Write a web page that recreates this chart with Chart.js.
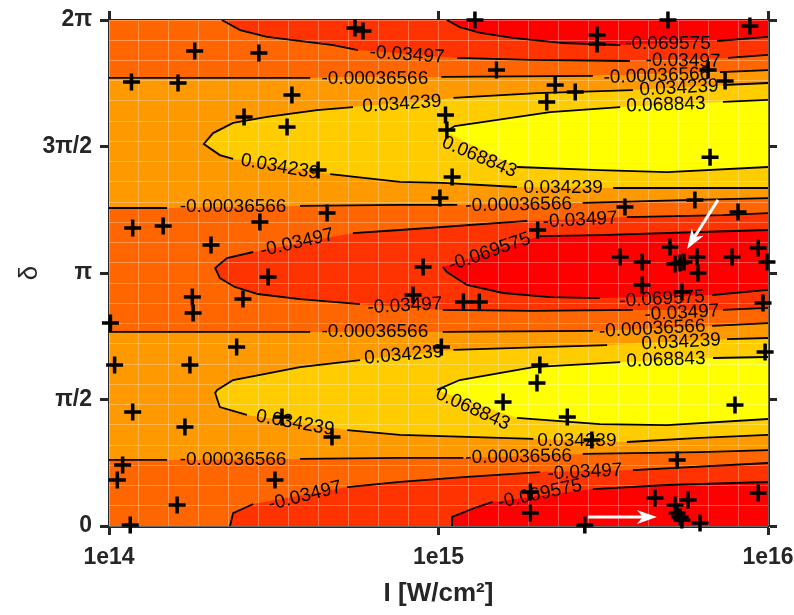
<!DOCTYPE html>
<html>
<head>
<meta charset="utf-8">
<script src="https://cdn.jsdelivr.net/npm/chart.js@4.4.1/dist/chart.umd.min.js"></script>
<style>
  body { margin: 0; background: #fff; }
  canvas { display: block; }
</style>
</head>
<body>
<canvas id="myChart" width="794" height="615"></canvas>
<script>
// axes (delta is kept in units of pi)
const xTicks = [1e14, 1e15, 1e16]
const xTickLabels = ['1e14', '1e15', '1e16']
const yTicks = [0, 0.5, 1, 1.5, 2]
const yTickLabels = ['0', 'π/2', 'π', '3π/2', '2π']

// contour levels and the autumn colours between them (lowest band first)
const levels = [-0.069575, -0.03497, -0.00036566, 0.034239, 0.068843]
const bandColors = ['#ff0000', '#ff3300', '#ff6600', '#ff9900', '#ffcc00', '#ffff00']

// contour lines as [I, delta/pi], null = break in the line where a label sits
const topRed = [[1.06e15, 2.0], [1.16e15, 1.972], [1.34e15, 1.949], [1.68e15, 1.929], [2.39e15, 1.909], [3.56e15, 1.901], null, [7.00e15, 1.917], [1e16, 1.933]]
const topMid = [[2.20e14, 2.0], [2.50e14, 1.960], [3.02e14, 1.933], [4.79e14, 1.901], [5.70e14, 1.881], null, [1.14e15, 1.850], [1.90e15, 1.842], [3.81e15, 1.838], null, [7.56e15, 1.850], [1e16, 1.862]]
const zeroA = [[1e14, 1.771], [4.08e14, 1.771], null, [1.02e15, 1.775], [2.94e15, 1.779], null, [7.15e15, 1.794], [1e16, 1.802]]
const upPos1 = [[1e16, 1.751], [7.30e15, 1.743], null, [3.89e15, 1.723], [1.99e15, 1.711], [1.11e15, 1.692], null, [5.50e14, 1.656], [4.28e14, 1.644], [3.02e14, 1.617], [2.38e14, 1.593], [2.07e14, 1.553], [1.94e14, 1.510], [2.17e14, 1.466], [2.38e14, 1.451], null, [4.69e14, 1.391], [7.64e14, 1.360], [1.03e15, 1.356], [1.73e15, 1.340], null, [3.39e15, 1.336], [6.22e15, 1.336], [1e16, 1.336]]
const upPos2 = [[1e16, 1.684], [7.30e15, 1.676], null, [3.56e15, 1.656], [2.18e15, 1.636], [1.31e15, 1.593], [1.12e15, 1.581], [1.05e15, 1.557], null, [1.73e15, 1.419], [3.09e15, 1.407], [4.94e15, 1.399], [1e16, 1.419]]
const zeroB = [[1e14, 1.257], [1.50e14, 1.257], null, [3.80e14, 1.265], [7.64e14, 1.269], [1.14e15, 1.269], null, [2.74e15, 1.277], [5.92e15, 1.289], [1e16, 1.296]]
const midNeg1 = [[1e16, 1.237], [7.30e15, 1.229], [3.73e15, 1.221], null, [1.86e15, 1.206], [7.64e14, 1.170], [5.50e14, 1.158], null, [2.74e14, 1.083], [2.28e14, 1.059], [2.10e14, 1.020], [2.17e14, 0.980], [2.41e14, 0.945], [2.83e14, 0.917], [3.80e14, 0.897], [5.78e14, 0.877], null, [1.03e15, 0.854], [1.94e15, 0.850], [3.89e15, 0.854], null, [7.30e15, 0.854], [1e16, 0.862]]
const midNeg2 = [[1e16, 1.170], [6.22e15, 1.162], [3.09e15, 1.150], [2.03e15, 1.146], null, [1.03e15, 1.024], [1.06e15, 1.004], [1.22e15, 0.953], [1.57e15, 0.921], [2.18e15, 0.905], [3.09e15, 0.901], null, [6.77e15, 0.913], [1e16, 0.933]]
const zeroC = [[1e14, 0.767], [4.08e14, 0.767], null, [1.03e15, 0.767], [2.94e15, 0.771], null, [6.77e15, 0.791], [1e16, 0.802]]
const lowPos1 = [[1e16, 0.743], [7.51e15, 0.739], null, [3.25e15, 0.715], [1.11e15, 0.696], null, [5.78e14, 0.656], [3.80e14, 0.628], [2.38e14, 0.577], [2.13e14, 0.538], [2.10e14, 0.526], [2.17e14, 0.470], [2.62e14, 0.439], null, [5.28e14, 0.379], [7.64e14, 0.360], [1.22e15, 0.352], [1.94e15, 0.344], null, [3.73e15, 0.332], [6.22e15, 0.348], [1e16, 0.360]]
const lowPos2 = [[1e16, 0.668], [6.81e15, 0.664], null, [3.56e15, 0.648], [1.94e15, 0.628], [1.16e15, 0.577], [9.89e14, 0.538], null, [1.73e15, 0.427], [3.09e15, 0.403], [4.94e15, 0.399], [1e16, 0.423]]
const zeroD = [[1e14, 0.261], [1.50e14, 0.261], null, [3.80e14, 0.265], [7.64e14, 0.269], [1.19e15, 0.269], null, [2.74e15, 0.285], [6.22e15, 0.292], [1e16, 0.300]]
const botMid = [[2.33e14, 0], [2.38e14, 0.051], [2.74e14, 0.087], null, [5.28e14, 0.154], [7.64e14, 0.174], [1.22e15, 0.194], [2.03e15, 0.213], null, [3.89e15, 0.221], [1e16, 0.249]]
const botRed = [[1.10e15, 0], [1.10e15, 0.036], [1.31e15, 0.075], [1.46e15, 0.095], null, [2.94e15, 0.146], [4.94e15, 0.162], [1e16, 0.174]]

// sample points (+)
const markI = [5.58e14, 5.90e14, 1.82e14, 2.85e14, 1.17e14, 1.62e14, 3.59e14, 2.57e14, 3.47e14, 4.31e14,
  1.18e14, 1.46e14, 2.87e14, 4.59e14, 2.04e14, 3.04e14, 1.79e14, 1.80e14, 2.55e14, 1.01e14,
  1.04e14, 1.76e14, 2.44e14, 1.18e14, 1.70e14, 3.35e14, 4.75e14, 1.10e14, 1.06e14, 1.61e14,
  3.19e14, 1.16e14, 1.29e15, 4.97e15, 8.81e15, 3.03e15, 3.03e15, 1.50e15, 2.26e15, 2.60e15,
  2.13e15, 6.58e15, 7.41e15, 1.05e15, 1.06e15, 6.67e15, 1.10e15, 1.01e15, 3.68e15, 6.00e15,
  8.11e15, 2.00e15, 5.04e15, 9.34e15, 3.56e15, 4.15e15, 5.22e15, 5.41e15, 5.56e15, 6.09e15,
  6.13e15, 7.78e15, 9.93e15, 4.15e15, 5.48e15, 8.98e14, 8.37e14, 1.19e15, 1.33e15, 9.66e15,
  9.80e15, 1.02e15, 2.03e15, 1.99e15, 1.57e15, 2.46e15, 7.94e15, 2.92e15, 5.30e15, 1.90e15,
  1.90e15, 4.54e15, 5.22e15, 5.72e15, 5.30e15, 5.41e15, 5.48e15, 6.22e15, 2.78e15, 9.34e15]
const markD = [1.968, 1.957, 1.877, 1.870, 1.755, 1.751, 1.704, 1.617, 1.577, 1.407,
  1.178, 1.186, 1.202, 1.237, 1.111, 0.984, 0.905, 0.842, 0.897, 0.802,
  0.636, 0.636, 0.708, 0.451, 0.391, 0.431, 0.352, 0.241, 0.182, 0.083,
  0.182, 0.004, 2.0, 2.0, 1.976, 1.941, 1.905, 1.802, 1.743, 1.715,
  1.676, 1.802, 1.759, 1.625, 1.565, 1.458, 1.379, 1.296, 1.261, 1.289,
  1.241, 1.170, 1.103, 1.099, 1.063, 1.043, 1.036, 1.040, 1.043, 1.063,
  1.000, 1.063, 1.043, 0.953, 0.925, 1.024, 0.913, 0.885, 0.885, 0.881,
  0.688, 0.708, 0.636, 0.565, 0.490, 0.431, 0.478, 0.340, 0.261, 0.134,
  0.051, 0.111, 0.083, 0.103, 0.051, 0.036, 0.024, 0.012, 0.004, 0.130]

// contour labels: text, position and angle (deg)
const labelText = ['-0.069575', '-0.03497', '-0.03497', '-0.00036566', '-0.00036566', '0.034239', '0.034239', '0.068843',
  '0.034239', '0.068843', '0.034239', '-0.00036566', '-0.00036566', '-0.03497', '-0.03497', '-0.069575',
  '-0.069575', '-0.03497', '-0.03497', '-0.00036566', '-0.00036566', '0.034239', '0.034239', '0.068843',
  '0.034239', '0.068843', '0.034239', '-0.00036566', '-0.00036566', '-0.03497', '-0.03497', '-0.069575']
const labelI = [4.97e15, 8.02e14, 5.52e15, 6.41e14, 4.60e15, 7.74e14, 5.37e15, 4.90e15,
  3.30e14, 1.33e15, 2.39e15, 2.38e14, 1.75e15, 3.72e14, 2.69e15, 1.43e15,
  4.77e15, 7.91e14, 5.48e15, 6.41e14, 4.45e15, 7.85e14, 5.45e15, 4.90e15,
  3.67e14, 1.27e15, 2.63e15, 2.38e14, 1.75e15, 3.94e14, 2.78e15, 2.03e15]
const labelD = [1.905, 1.862, 1.838, 1.767, 1.779, 1.668, 1.731, 1.664,
  1.419, 1.458, 1.336, 1.261, 1.269, 1.119, 1.209, 1.083,
  0.897, 0.870, 0.842, 0.767, 0.779, 0.676, 0.727, 0.656,
  0.407, 0.462, 0.336, 0.261, 0.273, 0.119, 0.213, 0.126]
const labelAngle = [0, 4, 1, 0, -2, -4, -3, -2,
  10, 23, 0, 0, -1, -13, -3, -19,
  -3, -3, -3, 0, -3, -5, -3, -2,
  10, 24, 0, 0, -1, -14, -3, -12]

// white arrows: tail -> tip
const arrowTailI = [2.84e15, 7.05e15]
const arrowTailD = [0.036, 1.289]
const arrowTipI = [4.60e15, 5.68e15]
const arrowTipD = [0.036, 1.095]

const axisColor = '#262626'
const gridCols = 44
const gridRows = 50

const pts = arr => arr.map((p, i) => p ? {x: p[0], y: p[1]} : {x: arr[i - 1][0], y: null})
const poly = arr => arr.filter(p => p).map(p => ({x: p[0], y: p[1]}))

// filled bands, painted from the bottom layer up
const fills = [
    [zeroA, 'end', 2], [zeroA, 'start', 3], [zeroB, 'start', 2], [zeroC, 'start', 3], [zeroD, 'start', 2],
    [topMid, 'end', 1], [topRed, 'end', 0],
    [upPos1, 'shape', 4], [upPos2, 'shape', 5],
    [midNeg1, 'shape', 1], [midNeg2, 'shape', 0],
    [lowPos1, 'shape', 4], [lowPos2, 'shape', 5],
    [botMid, 'start', 1], [botRed, 'start', 0]
]
const contourLines = [topRed, topMid, zeroA, upPos1, upPos2, zeroB, midNeg1, midNeg2, zeroC, lowPos1, lowPos2, zeroD, botMid, botRed]

const drawList = []
fills.forEach(([line, mode, band], i) => {
    drawList.push({
        type: 'line',
        data: poly(line),
        fill: mode,
        backgroundColor: bandColors[band],
        borderColor: 'rgba(0,0,0,0)',
        borderWidth: 0,
        pointRadius: 0,
        gridAfter: i === fills.length - 1
    })
})
contourLines.forEach(line => {
    drawList.push({
        type: 'line',
        data: pts(line),
        fill: false,
        borderColor: '#000',
        borderWidth: 1.8,
        pointRadius: 0,
        spanGaps: false
    })
})
drawList.push({
    type: 'scatter',
    data: markI.map((v, i) => ({x: v, y: markD[i]})),
    pointStyle: 'cross',
    pointRadius: 8.5,
    pointBorderWidth: 3.5,
    pointBorderColor: '#000',
    clip: false,
    labelsBefore: true
})
drawList.forEach((d, i) => {
    d.order = drawList.length - i
    d.xAxisID = 'x'
    d.yAxisID = 'y'
})

function drawLabels(chart) {
    const {ctx, scales: {x, y}} = chart
    ctx.save()
    ctx.font = '19px "Liberation Sans", Arial, sans-serif'
    ctx.fillStyle = '#000'
    ctx.textAlign = 'center'
    ctx.textBaseline = 'middle'
    labelText.forEach((t, i) => {
        ctx.save()
        ctx.translate(x.getPixelForValue(labelI[i]), y.getPixelForValue(labelD[i]))
        ctx.rotate(labelAngle[i] * Math.PI / 180)
        ctx.fillText(t, 0, 0)
        ctx.restore()
    })
    ctx.restore()
}

function drawArrows(chart) {
    const {ctx, scales: {x, y}} = chart
    ctx.save()
    ctx.strokeStyle = '#fff'
    ctx.fillStyle = '#fff'
    ctx.lineWidth = 3
    arrowTailI.forEach((v, i) => {
        const x0 = x.getPixelForValue(v), y0 = y.getPixelForValue(arrowTailD[i])
        const x1 = x.getPixelForValue(arrowTipI[i]), y1 = y.getPixelForValue(arrowTipD[i])
        const ang = Math.atan2(y1 - y0, x1 - x0)
        ctx.beginPath()
        ctx.moveTo(x0, y0)
        ctx.lineTo(x1 - Math.cos(ang) * 12, y1 - Math.sin(ang) * 12)
        ctx.stroke()
        ctx.save()
        ctx.translate(x1, y1)
        ctx.rotate(ang)
        ctx.beginPath()
        ctx.moveTo(0, 0)
        ctx.lineTo(-20, -7)
        ctx.lineTo(-14, 0)
        ctx.lineTo(-20, 7)
        ctx.closePath()
        ctx.fill()
        ctx.restore()
    })
    ctx.restore()
}

const overlay = {
    id: 'overlay',
    afterDatasetDraw(chart, args) {
        if (chart.data.datasets[args.index].gridAfter) {
            chart.scales.gx.drawGrid(chart.chartArea)
            chart.scales.gy.drawGrid(chart.chartArea)
        }
    },
    beforeDatasetDraw(chart, args) {
        if (chart.data.datasets[args.index].labelsBefore) drawLabels(chart)
    },
    afterDatasetsDraw(chart) {
        drawArrows(chart)
    }
}

const tickFont = {size: 23, weight: 'bold'}
const tickGrid = {drawOnChartArea: false, drawTicks: true, tickLength: 9, tickWidth: 3, tickColor: axisColor}
const frame = {display: true, width: 3, color: axisColor}
const setXTicks = s => { s.ticks = xTicks.map(v => ({value: v})) }
const setYTicks = s => { s.ticks = yTicks.map(v => ({value: v})) }

Chart.defaults.font.family = '"Liberation Sans", Arial, Helvetica, sans-serif'

const ctx = document.getElementById('myChart').getContext('2d')
new Chart(ctx, {
    type: 'line',
    data: {datasets: drawList},
    plugins: [overlay],
    options: {
        responsive: false,
        animation: false,
        devicePixelRatio: 1,
        events: [],
        layout: {padding: 0},
        plugins: {legend: {display: false}, tooltip: {enabled: false}},
        scales: {
            x: {
                type: 'logarithmic', position: 'bottom', min: xTicks[0], max: xTicks[2], z: 1,
                afterBuildTicks: setXTicks,
                afterFit: s => { s.height = 89; s.paddingLeft = 0; s.paddingRight = 0 },
                ticks: {callback: (v, i) => xTickLabels[i], font: tickFont, color: axisColor, padding: 9, maxRotation: 0, autoSkip: false},
                grid: tickGrid,
                border: frame,
                title: {display: true, text: 'I [W/cm²]', font: {size: 26, weight: 'bold'}, color: axisColor, padding: {top: 0, bottom: 6}}
            },
            y: {
                type: 'linear', position: 'left', min: yTicks[0], max: yTicks[4], z: 1,
                afterBuildTicks: setYTicks,
                afterFit: s => { s.width = 109; s.paddingTop = 0; s.paddingBottom = 0 },
                ticks: {callback: (v, i) => yTickLabels[i], font: tickFont, color: axisColor, padding: 8},
                grid: tickGrid,
                border: frame,
                title: {display: true, text: 'δ', font: {size: 26}, color: axisColor, padding: {top: 14, bottom: 0}}
            },
            x2: {
                type: 'logarithmic', axis: 'x', position: 'top', min: xTicks[0], max: xTicks[2], z: 1,
                afterBuildTicks: setXTicks,
                afterFit: s => { s.height = 20; s.paddingLeft = 0; s.paddingRight = 0 },
                ticks: {display: false},
                grid: tickGrid,
                border: frame
            },
            y2: {
                type: 'linear', axis: 'y', position: 'right', min: yTicks[0], max: yTicks[4], z: 1,
                afterBuildTicks: setYTicks,
                afterFit: s => { s.width = 26; s.paddingTop = 0; s.paddingBottom = 0 },
                ticks: {display: false},
                grid: tickGrid,
                border: frame
            },
            gx: {
                type: 'linear', axis: 'x', position: 'top', display: false, min: 0, max: gridCols,
                afterBuildTicks: s => { s.ticks = Array.from({length: gridCols + 1}, (_, i) => ({value: i})) },
                grid: {color: 'rgba(255,255,255,0.3)', lineWidth: 1, drawTicks: false}
            },
            gy: {
                type: 'linear', axis: 'y', position: 'right', display: false, min: 0, max: gridRows,
                afterBuildTicks: s => { s.ticks = Array.from({length: gridRows + 1}, (_, i) => ({value: i})) },
                grid: {color: 'rgba(255,255,255,0.3)', lineWidth: 1, drawTicks: false}
            }
        }
    }
})
</script>
</body>
</html>
